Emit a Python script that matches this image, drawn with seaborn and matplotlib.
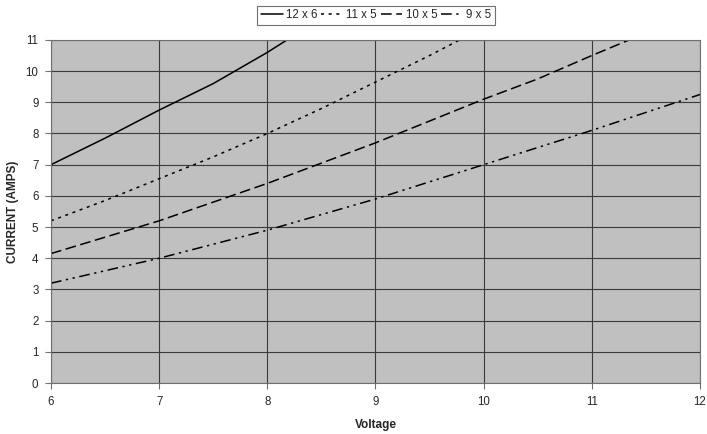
import matplotlib
matplotlib.use("Agg")
import matplotlib.pyplot as plt
import seaborn as sns
import pandas as pd

# readings
volts_12x6 = [6.0, 6.5, 7.0, 7.5, 7.75, 8.0, 8.5]
amps_12x6 = [7.0, 7.85, 8.75, 9.6, 10.1, 10.6, 11.7]

volts_11x5 = [6.0, 6.5, 7.0, 7.5, 8.0, 8.5, 9.0, 9.5, 10.0]
amps_11x5 = [5.2, 5.85, 6.55, 7.25, 8.0, 8.8, 9.65, 10.5, 11.4]

volts_10x5 = [6.0, 7.0, 8.0, 9.0, 10.0, 10.5, 11.0, 12.0]
amps_10x5 = [4.15, 5.2, 6.4, 7.7, 9.1, 9.75, 10.5, 11.95]

volts_9x5 = [6.0, 7.0, 8.0, 9.0, 10.0, 11.0, 12.0]
amps_9x5 = [3.2, 4.0, 4.9, 5.9, 7.0, 8.1, 9.25]

props = ["12 x 6", "11 x 5", "10 x 5", "9 x 5"]

frames = []
for name, vx, vy in zip(props,
                        [volts_12x6, volts_11x5, volts_10x5, volts_9x5],
                        [amps_12x6, amps_11x5, amps_10x5, amps_9x5]):
    frames.append(pd.DataFrame({"Voltage": vx, "Current": vy, "prop": name}))
df = pd.concat(frames, ignore_index=True)

sns.set_style("white")
plt.rcParams["font.family"] = ["Liberation Sans", "DejaVu Sans"]

fig = plt.figure(figsize=(7.07, 4.34), dpi=100)
ax = fig.add_axes([0.0721, 0.1175, 0.918, 0.7905])
ax.set_facecolor("#c0c0c0")

dashes = {
    "12 x 6": "",
    "11 x 5": (2, 3),
    "10 x 5": (7, 3),
    "9 x 5": (7, 3, 1.5, 3, 1.5, 3),
}
sns.lineplot(data=df, x="Voltage", y="Current", hue="prop", style="prop",
             palette=["black"] * 4, dashes=dashes, linewidth=1.1,
             sort=False, ax=ax, legend=True)

ax.set_xlim(6, 12)
ax.set_ylim(0, 11)
ax.set_xticks(range(6, 13))
ax.set_yticks(range(0, 12))
ax.grid(True, color="#3a3a3a", linewidth=0.8)
ax.set_axisbelow(True)
for s in ax.spines.values():
    s.set_color("#707070")
    s.set_linewidth(0.8)
ax.tick_params(axis="both", labelsize=8.3, length=4, width=0.8, color="#707070",
               direction="out", bottom=True, left=True, pad=5)

ax.set_xlabel("Voltage", fontsize=8.5, fontweight="bold", labelpad=8)
ax.set_ylabel("CURRENT (AMPS)", fontsize=8.5, fontweight="bold", labelpad=5)

handles, labels = ax.get_legend_handles_labels()
ax.legend(handles, labels, ncol=4, loc="center", bbox_to_anchor=(0.532, 0.965),
          bbox_transform=fig.transFigure, frameon=True, fancybox=False,
          edgecolor="#707070", fontsize=8.3, handlelength=1.9, handletextpad=0.3,
          columnspacing=0.3, borderpad=0.3, framealpha=1)
ax.get_legend().get_frame().set_linewidth(0.8)

plt.savefig("out.png", dpi=100)
plt.close()
